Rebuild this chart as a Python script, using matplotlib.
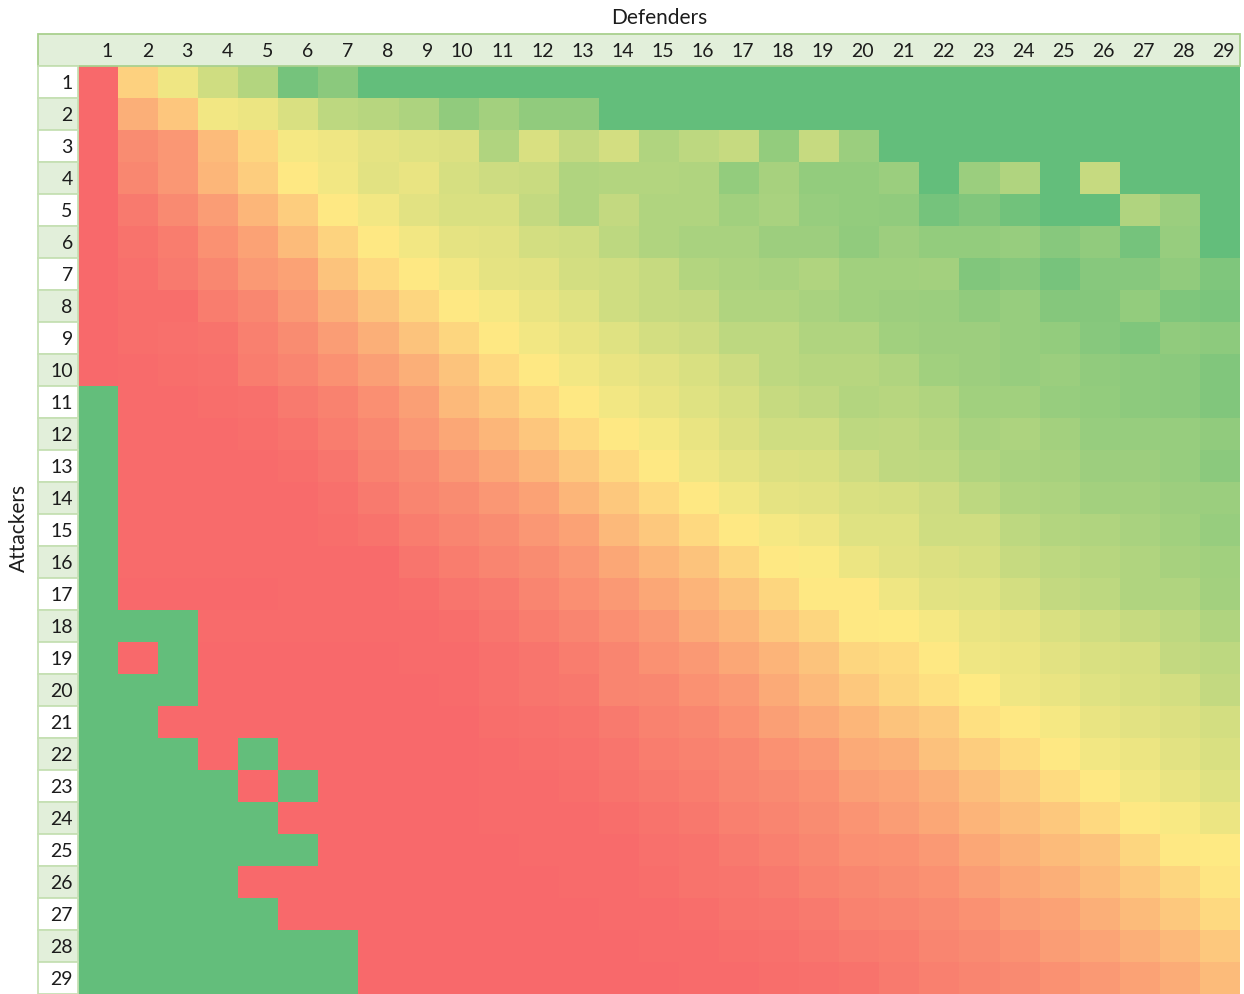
import matplotlib
matplotlib.use("Agg")
import matplotlib.pyplot as plt
import numpy as np
from matplotlib.colors import LinearSegmentedColormap
from matplotlib.patches import Rectangle

# Axis categories
defenders = [1, 2, 3, 4, 5, 6, 7, 8, 9, 10, 11, 12, 13, 14, 15,
             16, 17, 18, 19, 20, 21, 22, 23, 24, 25, 26, 27, 28, 29]
attackers = [1, 2, 3, 4, 5, 6, 7, 8, 9, 10, 11, 12, 13, 14, 15,
             16, 17, 18, 19, 20, 21, 22, 23, 24, 25, 26, 27, 28, 29]

# Colour-scale score per (attackers, defenders): 0 = red, 50 = yellow, 100 = green
att_01 = [0, 40, 55, 65, 74, 94, 87, 100, 100, 100, 100, 100, 100, 100, 100, 100, 100, 100, 100, 100, 100, 100, 100, 100, 100, 100, 100, 100, 100]
att_02 = [0, 27, 36, 54, 56, 62, 71, 73, 76, 85, 79, 85, 85, 100, 100, 100, 100, 100, 100, 100, 100, 100, 100, 100, 100, 100, 100, 100, 100]
att_03 = [0, 14, 18, 32, 42, 53, 55, 58, 60, 61, 75, 62, 69, 64, 75, 71, 68, 84, 68, 82, 100, 100, 100, 100, 100, 100, 100, 100, 100]
att_04 = [0, 12, 18, 30, 39, 49, 54, 59, 57, 63, 66, 67, 75, 74, 74, 75, 84, 78, 84, 84, 82, 100, 82, 75, 100, 68, 100, 100, 100]
att_05 = [0, 7, 13, 20, 30, 39, 49, 54, 59, 62, 62, 69, 75, 69, 75, 75, 80, 77, 83, 84, 85, 94, 90, 95, 100, 100, 75, 82, 100]
att_06 = [0, 4, 8, 16, 22, 32, 41, 49, 54, 58, 59, 64, 65, 71, 75, 77, 77, 81, 81, 85, 81, 84, 84, 83, 88, 85, 94, 83, 100]
att_07 = [0, 3, 7, 12, 19, 22, 35, 43, 49, 54, 58, 59, 64, 65, 68, 74, 76, 77, 75, 80, 80, 79, 90, 88, 93, 88, 88, 85, 91]
att_08 = [0, 2, 2, 8, 12, 19, 27, 35, 42, 49, 53, 57, 60, 65, 68, 69, 75, 75, 77, 80, 81, 82, 85, 83, 89, 89, 84, 91, 92]
att_09 = [0, 2, 3, 4, 9, 14, 20, 27, 35, 42, 49, 54, 57, 60, 64, 66, 71, 71, 75, 75, 80, 81, 81, 83, 84, 88, 91, 85, 86]
att_10 = [0, 1, 2, 3, 8, 11, 16, 21, 27, 35, 43, 49, 54, 57, 59, 62, 66, 71, 73, 73, 75, 80, 81, 83, 82, 85, 86, 87, 90]
att_11 = [100, 1, 1, 2, 3, 7, 10, 15, 21, 31, 37, 43, 49, 54, 57, 60, 63, 68, 70, 74, 73, 75, 80, 80, 83, 84, 86, 87, 90]
att_12 = [100, 1, 1, 1, 2, 4, 8, 12, 18, 24, 30, 36, 43, 49, 53, 57, 61, 65, 65, 71, 70, 73, 77, 76, 79, 83, 83, 83, 85]
att_13 = [100, 1, 1, 1, 1, 2, 5, 10, 13, 19, 24, 30, 37, 43, 49, 55, 58, 61, 62, 66, 70, 71, 75, 77, 78, 81, 81, 83, 87]
att_14 = [100, 1, 1, 1, 1, 1, 3, 7, 11, 14, 18, 22, 30, 37, 43, 49, 54, 58, 59, 62, 63, 66, 71, 75, 76, 79, 79, 81, 82]
att_15 = [100, 1, 1, 1, 1, 1, 2, 4, 8, 11, 14, 18, 22, 31, 37, 43, 49, 53, 55, 60, 60, 65, 65, 71, 74, 75, 77, 80, 83]
att_16 = [100, 1, 1, 1, 1, 1, 1, 1, 5, 8, 11, 14, 18, 24, 30, 35, 42, 49, 51, 56, 59, 61, 63, 68, 71, 73, 75, 78, 80]
att_17 = [100, 0, 0, 0, 0, 1, 1, 1, 2, 5, 7, 11, 15, 19, 24, 29, 35, 42, 49, 49, 55, 59, 60, 64, 69, 71, 75, 75, 79]
att_18 = [100, 100, 100, 1, 1, 1, 1, 1, 1, 2, 5, 8, 11, 15, 19, 25, 30, 37, 42, 49, 50, 53, 57, 58, 62, 65, 68, 71, 75]
att_19 = [100, 0, 100, 0, 0, 0, 0, 0, 1, 1, 3, 5, 8, 11, 16, 19, 24, 29, 35, 42, 44, 49, 55, 56, 59, 62, 63, 69, 71]
att_20 = [100, 100, 100, 0, 0, 0, 0, 0, 0, 1, 3, 5, 6, 11, 12, 16, 19, 25, 31, 37, 42, 46, 50, 55, 57, 60, 62, 64, 69]
att_21 = [100, 100, 0, 0, 0, 0, 0, 0, 0, 0, 2, 3, 4, 7, 10, 12, 16, 21, 25, 30, 35, 38, 46, 49, 53, 57, 59, 61, 64]
att_22 = [100, 100, 100, 0, 100, 0, 0, 0, 0, 0, 1, 2, 3, 5, 8, 10, 12, 16, 19, 25, 27, 34, 39, 44, 49, 54, 56, 59, 62]
att_23 = [100, 100, 100, 100, 0, 100, 0, 0, 0, 0, 1, 1, 2, 4, 6, 8, 11, 13, 16, 21, 23, 27, 33, 38, 44, 49, 54, 57, 60]
att_24 = [100, 100, 100, 100, 100, 0, 0, 0, 0, 0, 1, 1, 1, 2, 4, 6, 9, 11, 14, 17, 20, 24, 29, 33, 37, 43, 49, 52, 56]
att_25 = [100, 100, 100, 100, 100, 100, 0, 0, 0, 0, 0, 1, 1, 1, 3, 4, 7, 9, 12, 15, 16, 19, 24, 28, 32, 35, 42, 49, 50]
att_26 = [100, 100, 100, 100, 0, 0, 0, 0, 0, 0, 0, 0, 1, 1, 2, 4, 5, 7, 10, 12, 14, 16, 20, 24, 27, 32, 37, 42, 48]
att_27 = [100, 100, 100, 100, 100, 0, 0, 0, 0, 0, 0, 0, 0, 1, 1, 2, 4, 5, 7, 10, 11, 13, 16, 20, 22, 27, 32, 37, 43]
att_28 = [100, 100, 100, 100, 100, 100, 100, 0, 0, 0, 0, 0, 0, 0, 1, 1, 2, 3, 5, 7, 8, 11, 13, 16, 20, 23, 27, 31, 37]
att_29 = [100, 100, 100, 100, 100, 100, 100, 0, 0, 0, 0, 0, 0, 0, 0, 1, 1, 2, 3, 4, 7, 9, 11, 13, 16, 19, 22, 26, 32]

values = np.array([
    att_01, att_02, att_03, att_04, att_05, att_06, att_07, att_08, att_09, att_10,
    att_11, att_12, att_13, att_14, att_15, att_16, att_17, att_18, att_19, att_20,
    att_21, att_22, att_23, att_24, att_25, att_26, att_27, att_28, att_29,
], dtype=float)

W, H = 1244, 994
FONT = ["Lato", "DejaVu Sans"]
TEXT = "#1c1c1c"
HEAD_FILL = "#E2EFDA"
HEAD_EDGE = "#A9D08E"
CELL_EDGE = "#C6E0B4"

fig = plt.figure(figsize=(W / 100, H / 100), dpi=100)
fig.patch.set_facecolor("white")

# Heatmap area (one cell per attacker/defender pair)
ax = fig.add_axes([78 / W, 0, 1162 / W, 928 / H])
cmap = LinearSegmentedColormap.from_list("red_yellow_green", ["#F8696B", "#FFEB84", "#63BE7B"])
ax.imshow(values, cmap=cmap, vmin=0, vmax=100, aspect="auto",
          interpolation="nearest",
          extent=(defenders[0] - 0.5, defenders[-1] + 0.5,
                  attackers[-1] + 0.5, attackers[0] - 0.5))
ax.set_xlim(defenders[0] - 0.5, defenders[-1] + 0.5)
ax.set_ylim(attackers[-1] + 0.5, attackers[0] - 0.5)
ax.axis("off")

# Header row with defender counts
top = attackers[0] - 1
left = defenders[0] - 1
ax.add_patch(Rectangle((left - 0.5, top - 0.5), len(defenders) + 1, 1,
                       facecolor=HEAD_FILL, edgecolor=HEAD_EDGE, lw=1.3,
                       clip_on=False, zorder=3))
for d in defenders:
    ax.text(d + 0.5 - 0.13, top + 0.04, str(d), ha="right", va="center",
            fontsize=14, family=FONT, color=TEXT, clip_on=False, zorder=4)

# Row-label column with attacker counts (banded)
for a in attackers:
    fill = HEAD_FILL if a % 2 == 0 else "white"
    ax.add_patch(Rectangle((left - 0.5, a - 0.5), 1, 1,
                           facecolor=fill, edgecolor=CELL_EDGE, lw=1.3,
                           clip_on=False, zorder=3))
    ax.text(left + 0.5 - 0.13, a + 0.04, str(a), ha="right", va="center",
            fontsize=14, family=FONT, color=TEXT, clip_on=False, zorder=4)

fig.text(659 / W, 1 - 18 / H, "Defenders", ha="center", va="center",
         fontsize=15, family=FONT, color=TEXT)
fig.text(19 / W, 1 - 528 / H, "Attackers", ha="center", va="center",
         rotation=90, fontsize=15, family=FONT, color=TEXT)

fig.savefig("out.png", dpi=100, facecolor="white")
